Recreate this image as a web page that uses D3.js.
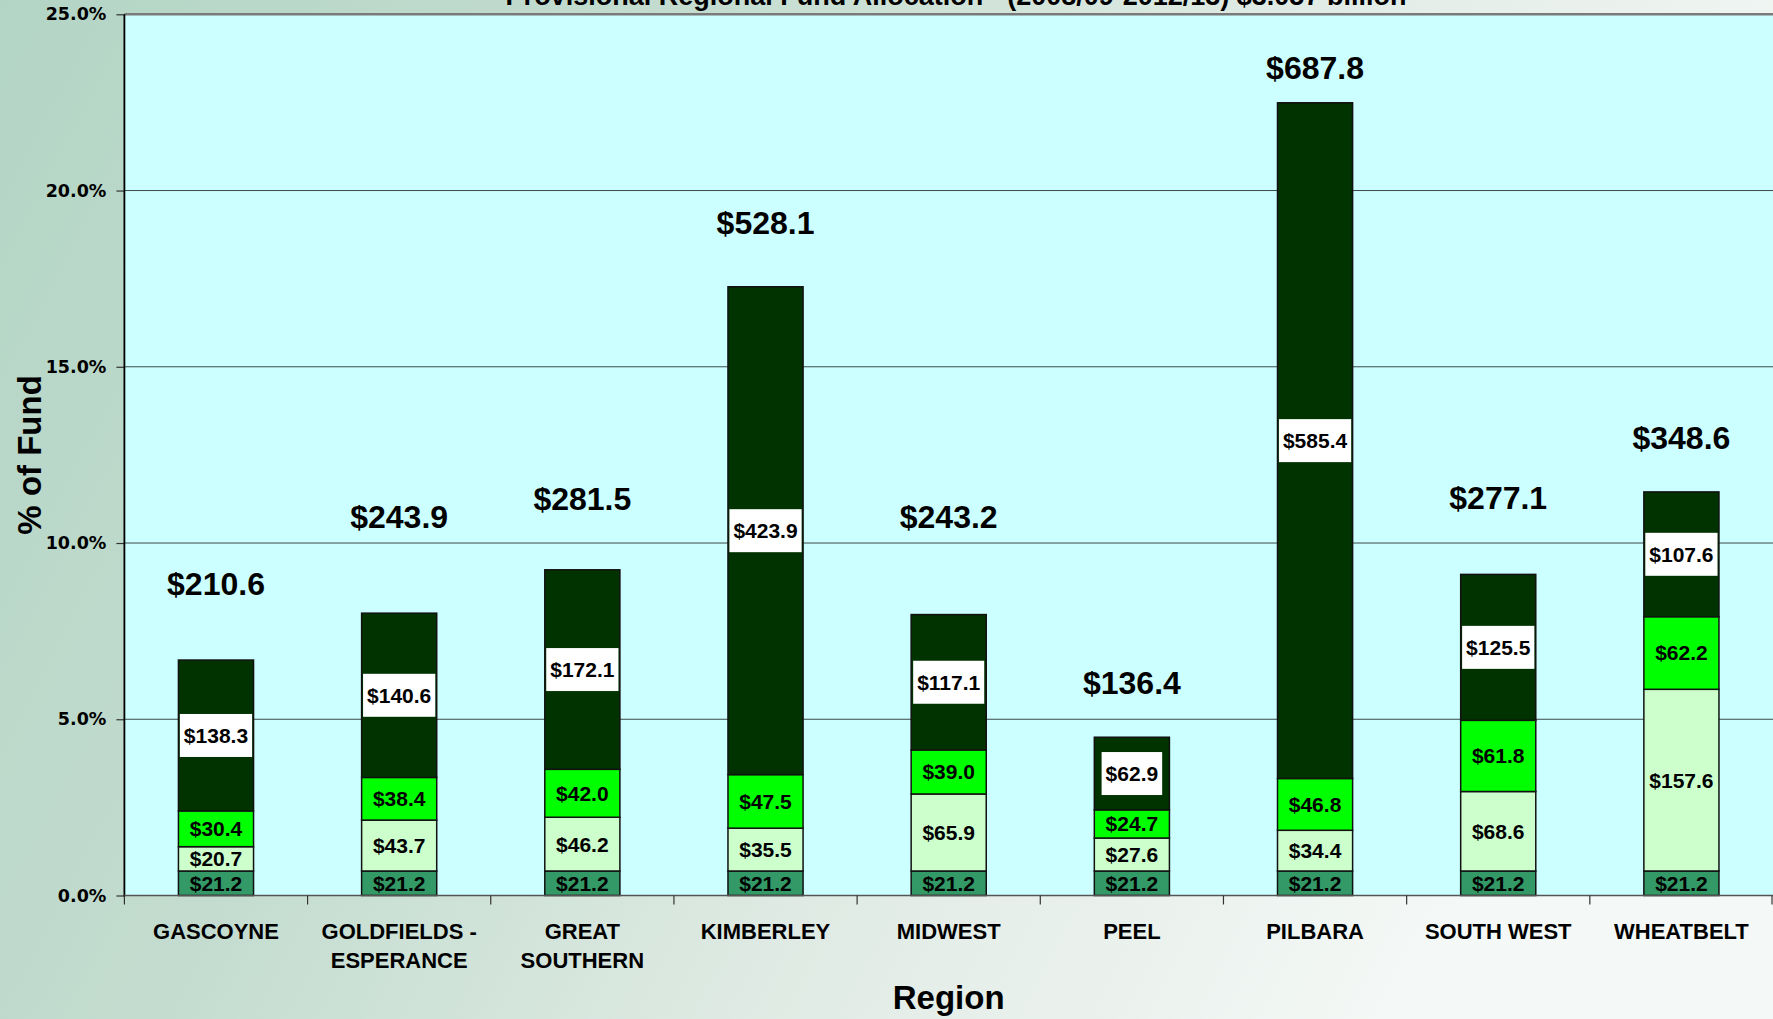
<!DOCTYPE html>
<html>
<head>
<meta charset="utf-8">
<script src="https://cdn.jsdelivr.net/npm/d3@7"></script>
<style>
  body { margin: 0; background: #fff; }
  svg { display: block; }
  text { font-family: "Liberation Sans", Arial, sans-serif; font-weight: bold; fill: #000; }
</style>
</head>
<body>
<svg id="chart" width="1773" height="1019"></svg>
<script>
// regions, in chart order
var regions = ["GASCOYNE", "GOLDFIELDS - ESPERANCE", "GREAT SOUTHERN", "KIMBERLEY",
  "MIDWEST", "PEEL", "PILBARA", "SOUTH WEST", "WHEATBELT"];
var regionLines = [["GASCOYNE"], ["GOLDFIELDS -", "ESPERANCE"], ["GREAT", "SOUTHERN"],
  ["KIMBERLEY"], ["MIDWEST"], ["PEEL"], ["PILBARA"], ["SOUTH WEST"], ["WHEATBELT"]];

// segment heights, % of fund (bottom to top)
var tier1Pct = [0.695, 0.695, 0.695, 0.695, 0.695, 0.695, 0.695, 0.695, 0.695];
var tier2Pct = [0.69, 1.445, 1.525, 1.215, 2.185, 0.935, 1.155, 2.255, 5.155];
var tier3Pct = [1.015, 1.21, 1.36, 1.52, 1.25, 0.80, 1.47, 2.02, 2.06];
var tier4Pct = [4.28, 4.66, 5.66, 13.84, 3.84, 2.06, 19.17, 4.14, 3.54];

// segment values, $ million
var tier1Dollars = [21.2, 21.2, 21.2, 21.2, 21.2, 21.2, 21.2, 21.2, 21.2];
var tier2Dollars = [20.7, 43.7, 46.2, 35.5, 65.9, 27.6, 34.4, 68.6, 157.6];
var tier3Dollars = [30.4, 38.4, 42.0, 47.5, 39.0, 24.7, 46.8, 61.8, 62.2];
var tier4Dollars = [138.3, 140.6, 172.1, 423.9, 117.1, 62.9, 585.4, 125.5, 107.6];
var totalDollars = [210.6, 243.9, 281.5, 528.1, 243.2, 136.4, 687.8, 277.1, 348.6];
// level (% axis) where each region's total is written
var totalLabelLevel = [8.84, 10.75, 11.26, 19.09, 10.75, 6.03, 23.47, 11.27, 12.97];

var yTicks = [0, 5, 10, 15, 20, 25];
var tierColors = ["#339966", "#ccffcc", "#00ff00", "#003300"];

var W = 1773, H = 1019;
var plotLeft = 124.4, plotRight = 1773, plotTop = 14.3, plotBottom = 895.5;

var svg = d3.select("#chart");

// page background
var defs = svg.append("defs");
var grad = defs.append("linearGradient").attr("id", "bg")
  .attr("x1", "0%").attr("y1", "0%").attr("x2", "100%").attr("y2", "30%");
grad.append("stop").attr("offset", "0%").attr("stop-color", "#b3d5c5");
grad.append("stop").attr("offset", "35%").attr("stop-color", "#c3dccf");
grad.append("stop").attr("offset", "70%").attr("stop-color", "#e2ece6");
grad.append("stop").attr("offset", "100%").attr("stop-color", "#f4f8f6");
svg.append("rect").attr("width", W).attr("height", H).attr("fill", "url(#bg)");

var x = d3.scaleBand().domain(regions).range([plotLeft, plotRight]).padding(0);
var y = d3.scaleLinear().domain([0, 25]).range([plotBottom, plotTop]);
var barW = x.bandwidth() * 0.41;

// plot area
svg.append("rect")
  .attr("x", plotLeft).attr("y", y(25))
  .attr("width", plotRight - plotLeft).attr("height", y(0) - y(25))
  .attr("fill", "#ccffff");

// gridlines
svg.append("g").selectAll("line")
  .data(yTicks.filter(function(d) { return d > 0 && d < 25; }))
  .enter().append("line")
  .attr("x1", plotLeft).attr("x2", plotRight)
  .attr("y1", function(d) { return y(d); }).attr("y2", function(d) { return y(d); })
  .attr("stroke", "#3d4a4a").attr("stroke-width", 1);

// top border
svg.append("line")
  .attr("x1", plotLeft).attr("x2", plotRight)
  .attr("y1", y(25)).attr("y2", y(25))
  .attr("stroke", "#7a7a7a").attr("stroke-width", 2.5);

// y axis
var yAxis = d3.axisLeft(y).tickValues(yTicks)
  .tickFormat(function(d) { return d.toFixed(1) + "%"; })
  .tickSize(8).tickPadding(10);
var yg = svg.append("g").attr("transform", "translate(" + plotLeft + ",0)").call(yAxis);
yg.select(".domain").remove();
yg.selectAll(".tick line").attr("stroke", "#333").attr("stroke-width", 1.2);
yg.selectAll(".tick text")
  .style("font-family", "'DejaVu Sans', Verdana, sans-serif")
  .style("font-weight", "bold")
  .style("font-size", "17.5px")
  .attr("fill", "#000");

// table for stacking
var keys = ["t1", "t2", "t3", "t4"];
var table = regions.map(function(r, i) {
  return { region: r, i: i, t1: tier1Pct[i], t2: tier2Pct[i], t3: tier3Pct[i], t4: tier4Pct[i] };
});
var dollars = { t1: tier1Dollars, t2: tier2Dollars, t3: tier3Dollars, t4: tier4Dollars };
var series = d3.stack().keys(keys)(table);

var layer = svg.append("g").selectAll("g.layer")
  .data(series)
  .enter().append("g")
  .attr("class", "layer")
  .attr("fill", function(d, k) { return tierColors[k]; });

layer.selectAll("rect")
  .data(function(d) { return d; })
  .enter().append("rect")
  .attr("x", function(d) { return x(d.data.region) + (x.bandwidth() - barW) / 2; })
  .attr("y", function(d) { return y(d[1]); })
  .attr("width", barW)
  .attr("height", function(d) { return y(d[0]) - y(d[1]); })
  .attr("stroke", "#111")
  .attr("stroke-width", 1.5);

// segment labels
series.forEach(function(s) {
  var key = s.key;
  s.forEach(function(d) {
    var cx = x(d.data.region) + x.bandwidth() / 2;
    var cy = y((d[0] + d[1]) / 2);
    var g = svg.append("g");
    var t = g.append("text")
      .attr("x", cx).attr("y", cy)
      .attr("text-anchor", "middle")
      .attr("dominant-baseline", "central")
      .style("font-size", "21px")
      .text("$" + dollars[key][d.data.i].toFixed(1));
    if (key === "t4") {
      var tw = t.node().getComputedTextLength();
      g.insert("rect", "text")
        .attr("x", cx - tw / 2 - 4).attr("y", cy - 21.5)
        .attr("width", tw + 8).attr("height", 43)
        .attr("fill", "#fff");
    }
  });
});

// totals above bars
svg.append("g").selectAll("text")
  .data(totalDollars)
  .enter().append("text")
  .attr("x", function(d, i) { return x(regions[i]) + x.bandwidth() / 2; })
  .attr("y", function(d, i) { return y(totalLabelLevel[i]); })
  .attr("text-anchor", "middle")
  .attr("dominant-baseline", "central")
  .style("font-size", "32px")
  .text(function(d) { return "$" + d.toFixed(1); });

// left axis line
svg.append("line")
  .attr("x1", plotLeft).attr("x2", plotLeft)
  .attr("y1", y(25)).attr("y2", y(0) + 1)
  .attr("stroke", "#000").attr("stroke-width", 1.8);

// x axis line and ticks
svg.append("line")
  .attr("x1", plotLeft).attr("x2", plotRight)
  .attr("y1", y(0)).attr("y2", y(0))
  .attr("stroke", "#555").attr("stroke-width", 1.6);
var edges = regions.map(function(r) { return x(r); }).concat([plotRight - 1]);
svg.append("g").selectAll("line")
  .data(edges)
  .enter().append("line")
  .attr("x1", function(d) { return d; }).attr("x2", function(d) { return d; })
  .attr("y1", y(0)).attr("y2", y(0) + 9)
  .attr("stroke", "#333").attr("stroke-width", 1.2);

// category labels
var cat = svg.append("g").selectAll("text")
  .data(regionLines)
  .enter().append("text")
  .attr("text-anchor", "middle")
  .style("font-size", "22px");
cat.each(function(lines, i) {
  var cx = x(regions[i]) + x.bandwidth() / 2;
  d3.select(this).selectAll("tspan")
    .data(lines)
    .enter().append("tspan")
    .attr("x", cx)
    .attr("y", function(d, j) { return 939 + j * 29; })
    .text(function(d) { return d; });
});

// axis titles
svg.append("text")
  .attr("x", (plotLeft + plotRight) / 2).attr("y", 1009)
  .attr("text-anchor", "middle")
  .style("font-size", "33px")
  .text("Region");

svg.append("text")
  .attr("transform", "translate(41," + ((plotTop + plotBottom) / 2) + ") rotate(-90)")
  .attr("text-anchor", "middle")
  .style("font-size", "33px")
  .text("% of Fund");

// chart title (clipped at the top edge as in the source)
svg.append("text")
  .attr("x", 956).attr("y", 5)
  .attr("text-anchor", "middle")
  .style("font-size", "27px")
  .text("Provisional Regional Fund Allocation - (2008/09-2012/13) $3.057 billion");
</script>
</body>
</html>
